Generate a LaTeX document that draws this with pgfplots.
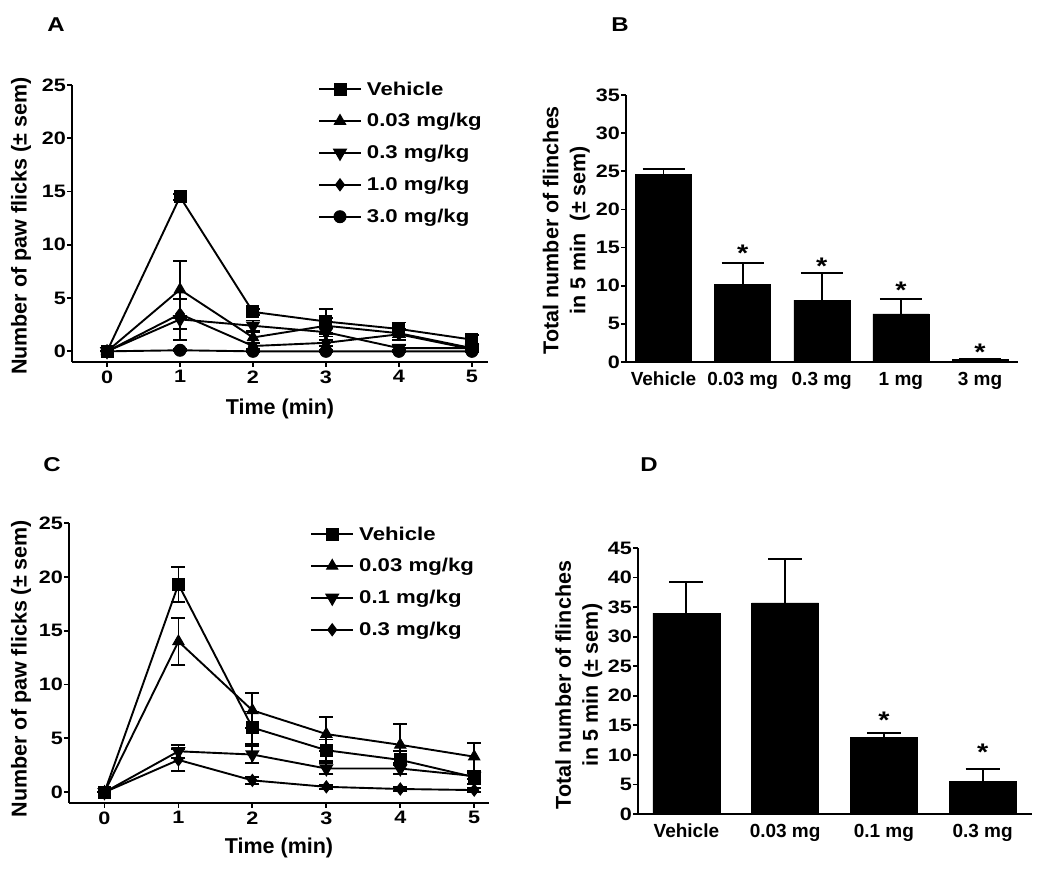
\documentclass[border=0pt]{standalone}
\usepackage{fontspec}
\setmainfont{Liberation Sans}[FakeStretch=1.2]
\newfontfamily\labfont{Liberation Sans}
\usepackage{pgfplots}
\pgfplotsset{compat=1.18}
\usepackage{pgfplotstable}

\pgfplotstableread{
t  veh  veherr  a    aerr  b    berr  c    cerr  d    derr
0  0    0       0    0     0    0     0    0     0    0
1  14.5 0.3     5.8  2.7   3.0  1.9   3.5  1.4   0.1  0.1
2  3.7  0.3     1.3  0.5   2.4  0.5   0.5  0.3   0.0  0.1
3  2.8  1.2     2.4  0.7   1.8  0.4   0.8  0.3   0.0  0.1
4  2.1  0.6     1.7  0.4   0.3  0.3   1.6  0.5   0.0  0.1
5  1.1  0.4     0.3  0.2   0.3  0.2   0.2  0.1   0.0  0.1
}\dataA

\pgfplotstableread{
t  veh  veherr  a    aerr  b    berr  c    cerr
0  0    0       0    0     0    0     0    0
1  19.3 1.6     14.0 2.2   3.8  0.6   3.0  1.0
2  6.0  1.5     7.6  1.6   3.5  0.8   1.1  0.3
3  3.9  1.0     5.4  1.6   2.2  0.5   0.5  0.2
4  3.0  0.8     4.4  1.9   2.2  0.5   0.3  0.2
5  1.4  0.6     3.3  1.3   1.5  0.3   0.2  0.2
}\dataC

\pgfplotstableread{
x  y     err
0  24.6  0.7
1  10.2  2.8
2  8.1   3.6
3  6.3   1.9
4  0.3   0.1
}\dataB

\pgfplotstableread{
x  y     err
0  34.0  5.3
1  35.7  7.5
2  13.0  0.7
3  5.5   2.1
}\dataD

\pgfplotstableread{
x  y
1  14.2
2  12.5
3  9.4
4  1.3
}\starsB

\pgfplotstableread{
x  y
2  15.8
3  10.5
}\starsD

\pgfplotsset{
  panel/.style={
    scale only axis,
    axis x line*=bottom, axis y line*=left,
    axis line style={line width=1.9pt, black},
    tick style={line width=1.8pt, black},
    tick align=outside, major tick length=5pt,
    tick label style={font=\fontsize{18}{18}\selectfont\bfseries},
    /pgf/number format/assume math mode=true,
    yticklabel style={inner sep=1pt},
    label style={font=\labfont\bfseries\fontsize{21.5}{27}\selectfont, align=center},
    clip=false,
  },
  lineplot/.style={
    panel,
    xtick={0,1,2,3,4,5}, ytick={0,5,10,15,20,25},
    ymin=-1, ymax=25,
    xlabel={Time (min)},
    ylabel={Number of paw flicks (\textpm\ sem)},
    legend style={draw=none, fill=none, inner sep=0pt,
      font=\fontsize{18.5}{18.5}\selectfont\bfseries,
      row sep=13pt, column sep=3pt, cells={anchor=west}},
    legend image code/.code={\draw[mark repeat=2,mark phase=2,##1] plot coordinates {(0pt,0pt) (21pt,0pt) (42pt,0pt)};},
  },
  ser/.style={black, line width=1.9pt, mark options={solid, fill=black, line width=1pt},
    error bars/y dir=both, error bars/y explicit,
    error bars/error bar style={line width=1.8pt, black},
    error bars/error mark options={rotate=90, mark size=7pt, line width=1.8pt, black}},
  barplot/.style={
    panel,
    xtick=data, xtick style={draw=none},
    xticklabel style={font=\labfont\bfseries\fontsize{19}{19}\selectfont,
      text height=14pt, text depth=4pt, yshift=-1pt},
  },
  bars/.style={ybar, bar width=#1, fill=black, draw=black, bar shift=0pt,
    error bars/y dir=plus, error bars/y explicit,
    error bars/error bar style={line width=1.9pt, black}},
  stars/.style={draw=none, mark=none, nodes near coords={*},
    every node near coord/.style={anchor=center, font=\fontsize{24}{24}\selectfont\bfseries}},
}

\begin{document}
\begin{tikzpicture}[x=1pt,y=1pt]
\useasboundingbox (0,0) rectangle (1050,877);

% ---------- A ----------
\begin{axis}[lineplot,
  at={(72pt,515pt)}, anchor=south west,
  width=416pt, height=277pt,
  xmin=-0.48, xmax=5.22,
  xlabel style={at={(axis description cs:0.5,-0.17)}, anchor=center},
  ylabel style={at={(axis description cs:-0.1226,0.49)}, anchor=center},
  legend style={at={(axis description cs:0.591,1.02)}, anchor=north west},
]
\addplot[ser, mark=square*, mark size=6pt] table[x=t, y=veh, y error=veherr] {\dataA};
\addlegendentry{Vehicle}
\addplot[ser, mark=triangle*, mark size=6.5pt] table[x=t, y=a, y error=aerr] {\dataA};
\addlegendentry{0.03 mg/kg}
\addplot[ser, mark=triangle*, mark size=6.5pt, mark options={rotate=180}] table[x=t, y=b, y error=berr] {\dataA};
\addlegendentry{0.3 mg/kg}
\addplot[ser, mark=diamond*, mark size=6pt] table[x=t, y=c, y error=cerr] {\dataA};
\addlegendentry{1.0 mg/kg}
\addplot[ser, mark=*, mark size=6pt] table[x=t, y=d, y error=derr] {\dataA};
\addlegendentry{3.0 mg/kg}
\end{axis}

% ---------- B ----------
\begin{axis}[barplot,
  at={(626pt,515pt)}, anchor=south west,
  width=392pt, height=267pt,
  xmin=-0.474, xmax=4.48, ymin=0, ymax=35,
  ytick={0,5,10,15,20,25,30,35},
  xticklabels={Vehicle, 0.03 mg, 0.3 mg, 1 mg, 3 mg},
  ylabel={Total number of flinches\\in 5 min\ \ (\textpm\ sem)},
  ylabel style={at={(axis description cs:-0.152,0.494)}, anchor=center},
]
\addplot[bars=56pt, error bars/error mark options={rotate=90, mark size=21pt, line width=1.9pt, black}] table[x=x, y=y, y error=err] {\dataB};
\addplot[stars] table[x=x, y=y] {\starsB};
\end{axis}

% ---------- C ----------
\begin{axis}[lineplot,
  at={(69pt,74pt)}, anchor=south west,
  width=420pt, height=280pt,
  xmin=-0.48, xmax=5.2,
  xlabel style={at={(axis description cs:0.5,-0.16)}, anchor=center},
  ylabel style={at={(axis description cs:-0.114,0.48)}, anchor=center},
  legend style={at={(axis description cs:0.574,0.995)}, anchor=north west},
]
\addplot[ser, mark=square*, mark size=6pt] table[x=t, y=veh, y error=veherr] {\dataC};
\addlegendentry{Vehicle}
\addplot[ser, mark=triangle*, mark size=6.5pt] table[x=t, y=a, y error=aerr] {\dataC};
\addlegendentry{0.03 mg/kg}
\addplot[ser, mark=triangle*, mark size=6.5pt, mark options={rotate=180}] table[x=t, y=b, y error=berr] {\dataC};
\addlegendentry{0.1 mg/kg}
\addplot[ser, mark=diamond*, mark size=6pt] table[x=t, y=c, y error=cerr] {\dataC};
\addlegendentry{0.3 mg/kg}
\end{axis}

% ---------- D ----------
\begin{axis}[barplot,
  at={(638pt,63pt)}, anchor=south west,
  width=394pt, height=266pt,
  xmin=-0.49, xmax=3.5, ymin=0, ymax=45,
  ytick={0,5,10,15,20,25,30,35,40,45},
  xticklabels={Vehicle, 0.03 mg, 0.1 mg, 0.3 mg},
  ylabel={Total number of flinches\\in 5 min (\textpm\ sem)},
  ylabel style={at={(axis description cs:-0.150,0.485)}, anchor=center},
]
\addplot[bars=67pt, error bars/error mark options={rotate=90, mark size=17pt, line width=1.9pt, black}] table[x=x, y=y, y error=err] {\dataD};
\addplot[stars] table[x=x, y=y] {\starsD};
\end{axis}

% panel letters
\node[font=\fontsize{20}{20}\selectfont\bfseries] at (56,852) {A};
\node[font=\fontsize{20}{20}\selectfont\bfseries] at (620,852) {B};
\node[font=\fontsize{20}{20}\selectfont\bfseries] at (52,412) {C};
\node[font=\fontsize{20}{20}\selectfont\bfseries] at (649,412) {D};
\end{tikzpicture}
\end{document}
